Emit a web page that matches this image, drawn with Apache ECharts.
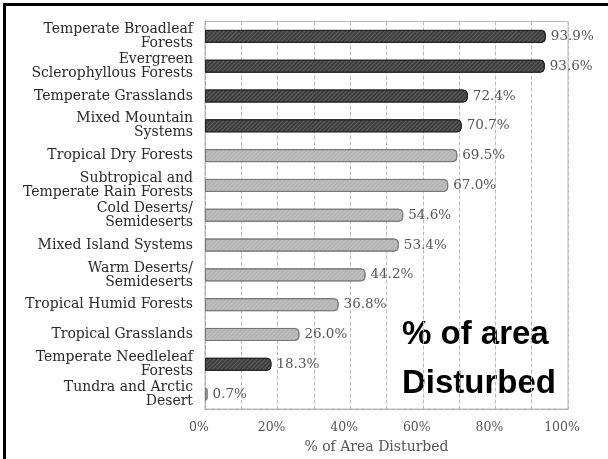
<!DOCTYPE html>
<html><head><meta charset="utf-8">
<script src="https://cdn.jsdelivr.net/npm/echarts@6/dist/echarts.min.js"></script>
<style>html,body{margin:0;padding:0;background:#fff;overflow:hidden}#c{width:608px;height:459px}</style>
</head><body><div id="c"></div>
<script>
const categories = ["Temperate Broadleaf\nForests","Evergreen\nSclerophyllous Forests","Temperate Grasslands","Mixed Mountain\nSystems","Tropical Dry Forests","Subtropical and\nTemperate Rain Forests","Cold Deserts/\nSemideserts","Mixed Island Systems","Warm Deserts/\nSemideserts","Tropical Humid Forests","Tropical Grasslands","Temperate Needleleaf\nForests","Tundra and Arctic\nDesert"];
const values = [93.9,93.6,72.4,70.7,69.5,67.0,54.6,53.4,44.2,36.8,26.0,18.3,0.7];
const darkGroup = [true,true,true,true,false,false,false,false,false,false,false,true,false];
const xTicks = [0,20,40,60,80,100];
const axisTitle = "% of Area Disturbed";
const overlayLines = ["% of area","Disturbed"];

const serif = "DejaVu Serif";
const chart = echarts.init(document.getElementById('c'));
const hatch = {symbol:'rect', dashArrayX:[1,0], dashArrayY:[1,2], rotation:-Math.PI/4, color:'rgba(255,255,255,0.18)'};
chart.setOption({
  animation:false,
  grid:{left:205,right:40,top:21.5,bottom:47,show:true,borderColor:'#bbb',borderWidth:1},
  xAxis:{type:'value',min:0,max:100,interval:10,
    axisLine:{show:true,lineStyle:{color:'#aaa',type:'dashed'}},
    axisTick:{show:false},
    splitLine:{show:true,lineStyle:{color:'#bbb',type:'dashed',width:1}},
    axisLabel:{margin:12,fontFamily:serif,fontSize:12.5,color:'#555',padding:[0,12,0,0],
      formatter:v=>xTicks.includes(v)?v+'%':''},
    name:axisTitle,nameLocation:'middle',nameGap:31,
    nameTextStyle:{fontFamily:serif,fontSize:14,color:'#555',padding:[0,20,0,0]}
  },
  yAxis:{type:'category',data:categories,inverse:true,
    axisLine:{show:true,lineStyle:{color:'#aaa',type:'dashed'}},axisTick:{show:false},
    axisLabel:{margin:12,fontFamily:serif,fontSize:14,color:'#2a2a2a',lineHeight:14,align:'right'}},
  series:[{type:'bar',barWidth:13,
    data:values.map((v,i)=>({value:v,itemStyle:{
      color:darkGroup[i]?'#3d3d3d':'#b4b4b4',
      borderColor:darkGroup[i]?'#222':'#777',borderWidth:1,borderRadius:[0,4,4,0],
      decal:hatch}})),
    label:{show:true,position:'right',distance:5,fontFamily:serif,fontSize:13.5,color:'#555',
      formatter:p=>p.value.toFixed(1)+'%'}
  }],
  aria:{enabled:true,decal:{show:true}},
  graphic:[
    {type:'rect',shape:{x:3,y:3,width:3,height:456},style:{fill:'#000'}},
    {type:'rect',shape:{x:3,y:3,width:605,height:3},style:{fill:'#000'}},
    {type:'text',left:402,top:318,style:{text:overlayLines[0],font:'bold 33px "Liberation Sans"',fill:'#000'}},
    {type:'text',left:402,top:367,style:{text:overlayLines[1],font:'bold 33px "Liberation Sans"',fill:'#000'}}
  ]
});
</script></body></html>
